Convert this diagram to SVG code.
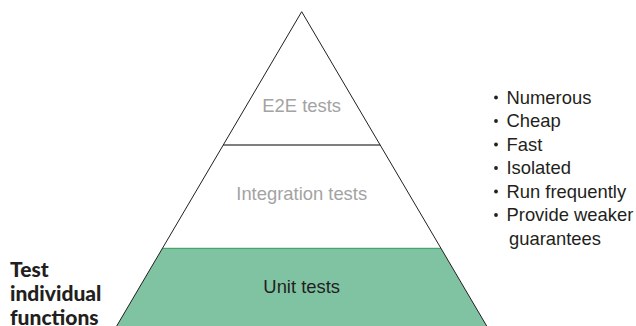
<svg xmlns="http://www.w3.org/2000/svg" width="636" height="326" viewBox="0 0 636 326">
<style>
.lbl{font-family:"Liberation Sans",Arial,sans-serif;font-size:18.4px;text-anchor:middle}
.gray{fill:#a3a3a3}
.dark{fill:#231f20}
.list{font-family:"Liberation Sans",Arial,sans-serif;font-size:18.4px;fill:#231f20}
.side{font-family:Lato,"Open Sans",sans-serif;font-weight:900;font-size:21px;fill:#231f20}
</style>
<rect width="636" height="326" fill="#fff"/>
<g id="pyramid">
<polygon points="162.4,248.3 440.9,248.3 486.7,326 116.7,326" fill="#80c3a3"/>
<line x1="162.4" y1="248.3" x2="440.9" y2="248.3" stroke="#2e9a5a" stroke-width="1"/>
<line x1="223.2" y1="145" x2="380.1" y2="145" stroke="#555" stroke-width="1.4"/>
<polyline points="116.7,326 301.7,11.7 486.7,326" fill="none" stroke="#231f20" stroke-width="1"/>
</g>
<g id="e2e"><text class="lbl gray" x="301.7" y="112">E2E tests</text></g>
<g id="integration"><text class="lbl gray" x="301.7" y="200">Integration tests</text></g>
<g id="unit"><text class="lbl dark" x="301.7" y="293">Unit tests</text></g>
<g id="properties">
<g fill="#231f20">
<circle cx="496" cy="97.5" r="1.9"/>
<circle cx="496" cy="121" r="1.9"/>
<circle cx="496" cy="144.5" r="1.9"/>
<circle cx="496" cy="168" r="1.9"/>
<circle cx="496" cy="191.5" r="1.9"/>
<circle cx="496" cy="215" r="1.9"/>
</g>
<text class="list" x="506.5" y="103.5">Numerous</text>
<text class="list" x="506.5" y="127">Cheap</text>
<text class="list" x="506.5" y="150.5">Fast</text>
<text class="list" x="506.5" y="174">Isolated</text>
<text class="list" x="506.5" y="197.5">Run frequently</text>
<text class="list" x="506.5" y="221">Provide weaker</text>
<text class="list" x="509" y="244.5">guarantees</text>
</g>
<g id="side-label">
<text class="side" x="10" y="277">Test</text>
<text class="side" x="10" y="301">individual</text>
<text class="side" x="10" y="324.5">functions</text>
</g>
</svg>
